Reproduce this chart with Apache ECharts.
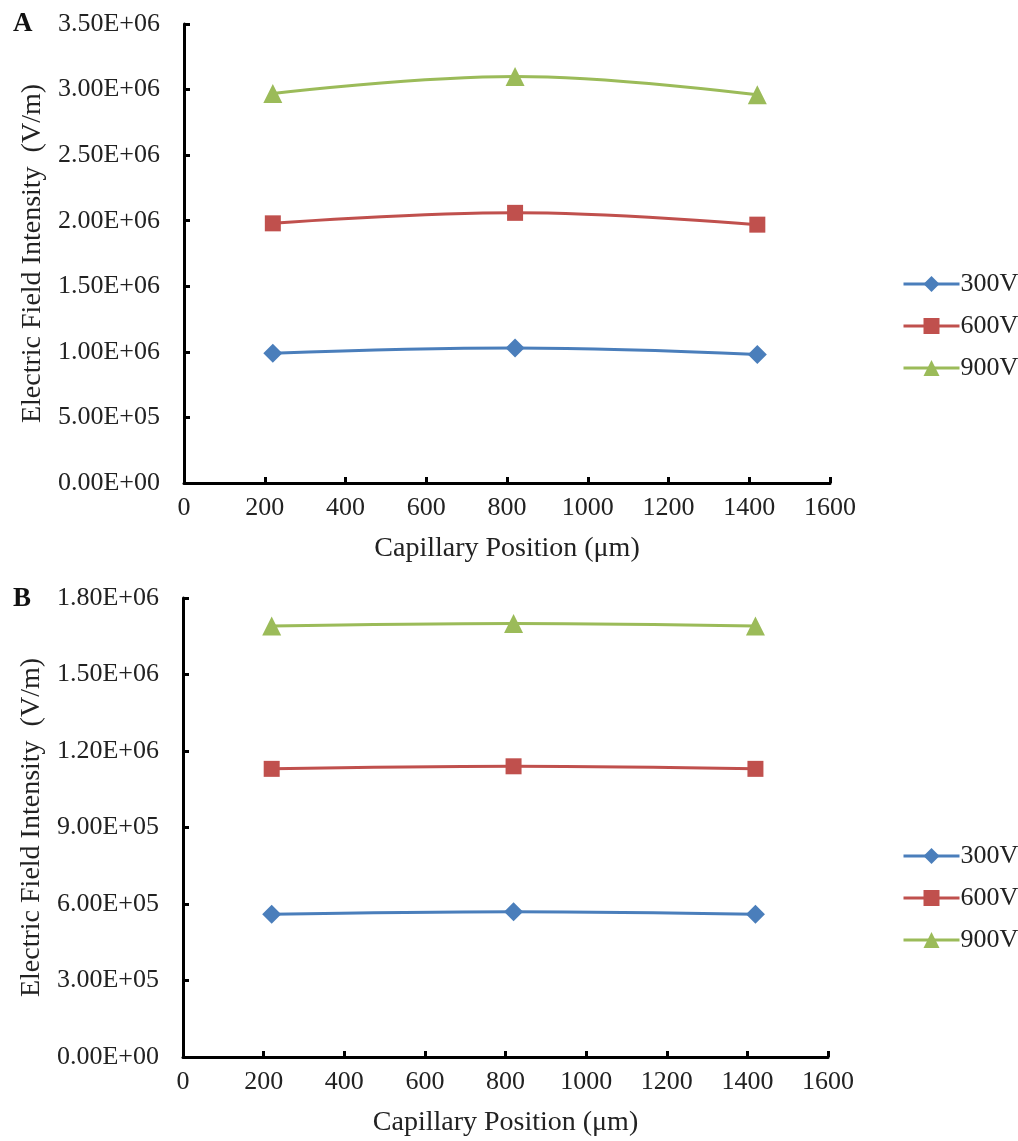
<!DOCTYPE html>
<html>
<head>
<meta charset="utf-8">
<title>Electric Field Intensity</title>
<script src="https://cdn.jsdelivr.net/npm/echarts@6/dist/echarts.min.js"></script>
<style>
    html, body { margin: 0; padding: 0; background: #fff; }
    #show_picture { width: 1018px; height: 1141px; }
</style>
</head>
<body>
<div id="show_picture"></div>
<script>
// data
const positions = [220, 820, 1420];
const seriesNames = ['300V', '600V', '900V'];

const panelA_300 = [0.99e6, 1.03e6, 0.98e6];
const panelA_600 = [1.98e6, 2.06e6, 1.97e6];
const panelA_900 = [2.97e6, 3.10e6, 2.96e6];

const panelB_300 = [0.56e6, 0.57e6, 0.56e6];
const panelB_600 = [1.13e6, 1.14e6, 1.13e6];
const panelB_900 = [1.69e6, 1.70e6, 1.69e6];

const colors = ['#4A7EBB', '#C0504D', '#9BBB59'];
const symbols = ['diamond', 'rect', 'triangle'];
const symbolSizes = [19, 16, 19];

const FONT = '"Liberation Serif", "DejaVu Serif", serif';

function sci(v) {
    if (v === 0) return '0.00E+00';
    let e = Math.floor(Math.log10(Math.abs(v)) + 1e-9);
    let m = v / Math.pow(10, e);
    return m.toFixed(2) + 'E' + (e < 0 ? '-' : '+') + String(Math.abs(e)).padStart(2, '0');
}

function pairs(ys) {
    return positions.map((x, i) => [x, ys[i]]);
}

let show_picture = document.getElementById('show_picture');
let myChart = echarts.init(show_picture);

const axisLine = { lineStyle: { color: '#000', width: 3 } };
const axisTick = { inside: true, length: 6, lineStyle: { color: '#000', width: 3 } };
const axisLabelX = { color: '#222', fontFamily: FONT, fontSize: 26, margin: 12, formatter: v => String(v) };
const axisLabelY = { color: '#222', fontFamily: FONT, fontSize: 26, margin: 24, formatter: sci };
const nameStyle = { color: '#222', fontFamily: FONT, fontSize: 28 };

function xAxis(gridIndex) {
    return {
        type: 'value', gridIndex: gridIndex,
        min: 0, max: 1600, interval: 200,
        name: 'Capillary Position (μm)',
        nameLocation: 'middle', nameGap: 52,
        nameTextStyle: nameStyle,
        axisLine: axisLine, axisTick: axisTick,
        axisLabel: axisLabelX,
        splitLine: { show: false }
    };
}

function yAxis(gridIndex, max, interval) {
    return {
        type: 'value', gridIndex: gridIndex,
        min: 0, max: max, interval: interval,
        name: 'Electric Field Intensity  (V/m)',
        nameLocation: 'middle', nameGap: 136,
        nameTextStyle: nameStyle,
        axisLine: Object.assign({ onZero: false }, axisLine), axisTick: axisTick,
        axisLabel: axisLabelY,
        splitLine: { show: false }
    };
}

function makeSeries(gridIndex, data) {
    return data.map((ys, i) => ({
        name: seriesNames[i],
        type: 'line',
        xAxisIndex: gridIndex, yAxisIndex: gridIndex,
        data: pairs(ys),
        smooth: 0.4,
        symbol: symbols[i],
        symbolSize: symbolSizes[i],
        itemStyle: { color: colors[i] },
        lineStyle: { color: colors[i], width: 3 },
        emphasis: { disabled: true }
    }));
}

function legend(top) {
    return {
        orient: 'vertical', left: 897, top: top,
        itemWidth: 56, itemHeight: 20, itemGap: 14,
        lineStyle: { width: 3 },
        textStyle: { color: '#222', fontFamily: FONT, fontSize: 26, lineHeight: 28, padding: [0, 0, 0, -4] },
        data: seriesNames
    };
}

let option = {
    backgroundColor: '#fff',
    animation: false,
    title: [
        { text: 'A', left: 8, top: 6, textStyle: { fontFamily: FONT, fontSize: 27, fontWeight: 'bold', color: '#111' } },
        { text: 'B', left: 8, top: 581, textStyle: { fontFamily: FONT, fontSize: 27, fontWeight: 'bold', color: '#111' } }
    ],
    grid: [
        { left: 184, top: 24, width: 646, height: 459 },
        { left: 183, top: 598, width: 645, height: 459 }
    ],
    xAxis: [xAxis(0), xAxis(1)],
    yAxis: [yAxis(0, 3.5e6, 0.5e6), yAxis(1, 1.8e6, 0.3e6)],
    legend: [legend(265), legend(837)],
    series: makeSeries(0, [panelA_300, panelA_600, panelA_900])
        .concat(makeSeries(1, [panelB_300, panelB_600, panelB_900]))
};

option && myChart.setOption(option);
</script>
</body>
</html>
